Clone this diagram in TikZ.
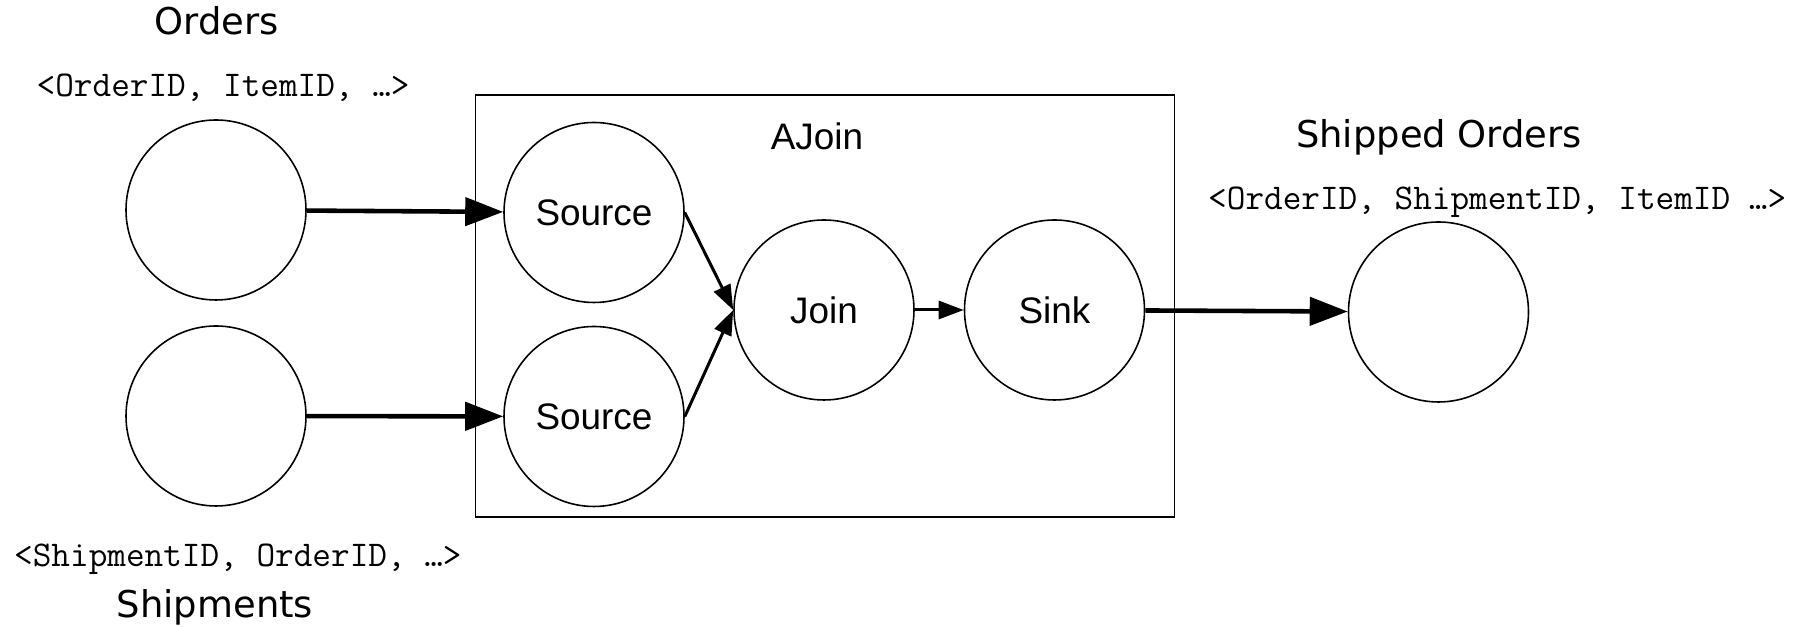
\documentclass[tikz,border=0pt]{standalone}
\usepackage{fontspec}
\setmainfont{Liberation Sans}
\newfontfamily\labelfont{DejaVu Sans}
\usepackage{tikz}
\usetikzlibrary{arrows.meta,positioning}
\definecolor{Ink}{HTML}{000000}

\begin{document}
\begin{tikzpicture}[x=1cm,y=1cm,
  stream/.style={circle,draw=Ink,line width=0.9pt,minimum size=3.6cm,inner sep=0pt,font=\fontsize{21}{24}\selectfont},
  title/.style={anchor=base,font=\labelfont\fontsize{21}{24}\selectfont},
  schema/.style={anchor=base west,font=\ttfamily\fontsize{20.6}{23}\selectfont},
  feed/.style={-{Triangle[length=0.76cm,width=0.56cm]},line width=2.6pt},
  pipe/.style={-{Triangle[length=0.5cm,width=0.36cm]},line width=1.7pt}]
\path[use as bounding box] (0,0) rectangle (36.24,12.54);

% input and output streams
\node[stream] (ord) at (4.32,8.34) {};
\node[stream] (shp) at (4.32,4.22) {};
\node[stream] (out) at (28.77,6.30) {};
\node[title] (ordname) at (4.34,11.84) {Orders};
\node[schema] (ordkey) at (0.61,10.60) {<OrderID, ItemID, …>};
\node[schema] (shpkey) at (0.16,1.20) {<ShipmentID, OrderID, …>};
\node[title] (shpname) at (4.30,0.18) {Shipments};
\node[title] (outname) at (28.78,9.58) {Shipped Orders};
\node[schema] (outkey) at (24.04,8.34) {<OrderID, ShipmentID, ItemID …>};

% operator box
\draw[line width=1.1pt] (9.51,2.20) rectangle (23.49,10.64);
\node[title,font=\fontsize{21}{24}\selectfont] (ajoin) at (16.34,9.54) {AJoin};
\node[stream] (src1) at (11.88,8.29) {Source};
\node[stream] (src2) at (11.88,4.21) {Source};
\node[stream] (join) at (16.48,6.34) {Join};
\node[stream] (sink) at (21.09,6.34) {Sink};

% dataflow
\draw[feed] (ord) -- (src1);
\draw[feed] (shp) -- (src2);
\foreach \s in {src1,src2}{\draw[pipe] (\s.east) -- (join.west);}
\draw[pipe] (join) -- (sink);
\draw[feed] (sink) -- (out);
\end{tikzpicture}
\end{document}
